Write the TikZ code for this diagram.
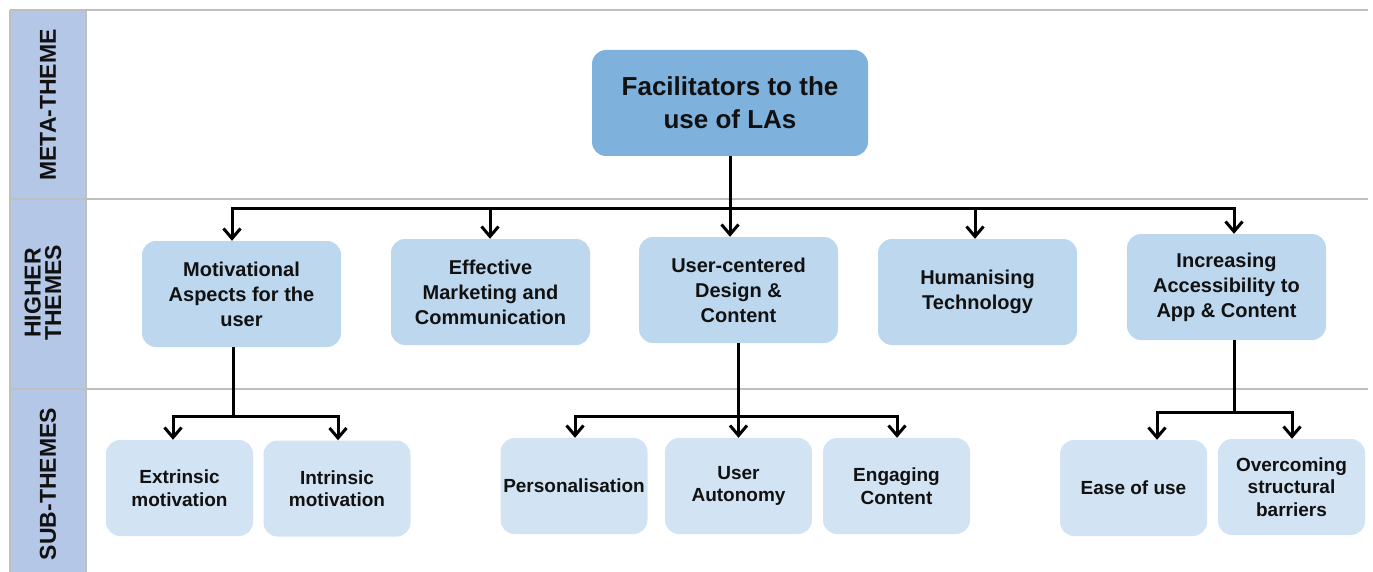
\documentclass[tikz,border=0pt]{standalone}
\usepackage{fontspec}
\setmainfont{Liberation Sans}
\usetikzlibrary{arrows.meta}
\definecolor{sidecol}{HTML}{B4C7E7}
\definecolor{metacol}{HTML}{7FB1DD}
\definecolor{highcol}{HTML}{BDD7EE}
\definecolor{subcol}{HTML}{D2E3F3}
\definecolor{gridcol}{HTML}{BFBFBF}
\definecolor{txtcol}{HTML}{111111}
\begin{document}
\begin{tikzpicture}[x=1pt,y=-1pt,
 grid/.style={draw=gridcol,line width=1.5pt},
 metabox/.style={fill=metacol, rounded corners=14pt, minimum width=276pt, minimum height=106pt, inner sep=0pt, align=center, text=txtcol, font=\bfseries\fontsize{26}{33}\selectfont},
 highbox/.style={fill=highcol, rounded corners=14pt, minimum width=199pt, minimum height=106pt, inner sep=0pt, align=center, text=txtcol, font=\bfseries\fontsize{20}{25}\selectfont},
 subbox/.style={fill=subcol, rounded corners=14pt, minimum width=147pt, minimum height=96pt, inner sep=0pt, align=center, text=txtcol, font=\bfseries\fontsize{19}{22.5}\selectfont},
 sidelabel/.style={rotate=90, align=center, inner sep=0pt, text=txtcol, font=\bfseries\fontsize{23}{20.5}\selectfont},
 conn/.style={draw=black, line width=3pt},
 arr/.style={conn, -{Straight Barb[length=10pt,width=17pt]}}
]
\useasboundingbox (0,0) rectangle (1373,572);
% table frame
\fill[sidecol] (10,10) rectangle (86,572);
\draw[grid] (10,10) -- (1368,10);
\draw[grid] (10,199) -- (1368,199);
\draw[grid] (10,389) -- (1368,389);
\draw[grid] (10,10) -- (10,572);
\draw[grid] (86,10) -- (86,572);
% row labels
\node[sidelabel] (lab1) at (48,105) {META-THEME};
\node[sidelabel] (lab2) at (43,293) {HIGHER\\THEMES};
\node[sidelabel] (lab3) at (48,484) {SUB-THEMES};
% meta theme
\node[metabox] (meta) at (730,103) {Facilitators to the\\use of LAs};
% higher themes
\node[highbox] (h1) at (241.5,294) {Motivational\\Aspects for the\\user};
\node[highbox] (h2) at (490.5,292) {Effective\\Marketing and\\Communication};
\node[highbox] (h3) at (738.5,290) {User-centered\\Design \&\\Content};
\node[highbox] (h4) at (977.5,292) {Humanising\\Technology};
\node[highbox] (h5) at (1226.5,287) {Increasing\\Accessibility to\\App \& Content};
% sub themes
\node[subbox] (s1) at (179.5,488) {Extrinsic\\motivation};
\node[subbox] (s2) at (337,488.5) {Intrinsic\\motivation};
\node[subbox] (s3) at (574,486) {Personalisation};
\node[subbox] (s4) at (738.5,486) {User\\Autonomy};
\node[subbox] (s5) at (896.5,486) {Engaging\\Content};
\node[subbox] (s6) at (1133.5,488) {Ease of use};
\node[subbox] (s7) at (1291.5,487) {Overcoming\\structural\\barriers};
% connectors meta -> higher
\draw[arr] (meta.south) -- ++(0,52) -| ([xshift=-9.5pt]h1.north);
\draw[arr] (meta.south) -- ++(0,52) -| ([xshift=-0.5pt]h2.north);
\draw[arr] (meta.south) -- ([xshift=-8.5pt]h3.north);
\draw[arr] (meta.south) -- ++(0,52) -| ([xshift=-2.5pt]h4.north);
\draw[arr] (meta.south) -- ++(0,52) -| ([xshift=7.5pt]h5.north);
% higher -> sub
\draw[arr] ([xshift=-8.5pt]h1.south) -- ++(0,69) -| ([xshift=-6.5pt]s1.north);
\draw[arr] ([xshift=-8.5pt]h1.south) -- ++(0,69) -| ([xshift=1pt]s2.north);
\draw[arr] (h3.south) -- ++(0,73) -| ([xshift=1pt]s3.north);
\draw[arr] (h3.south) -- (s4.north);
\draw[arr] (h3.south) -- ++(0,73) -| ([xshift=0.5pt]s5.north);
\draw[arr] ([xshift=8pt]h5.south) -- ++(0,72) -| ([xshift=23.5pt]s6.north);
\draw[arr] ([xshift=8pt]h5.south) -- ++(0,72) -| ([xshift=0.5pt]s7.north);
\end{tikzpicture}
\end{document}
